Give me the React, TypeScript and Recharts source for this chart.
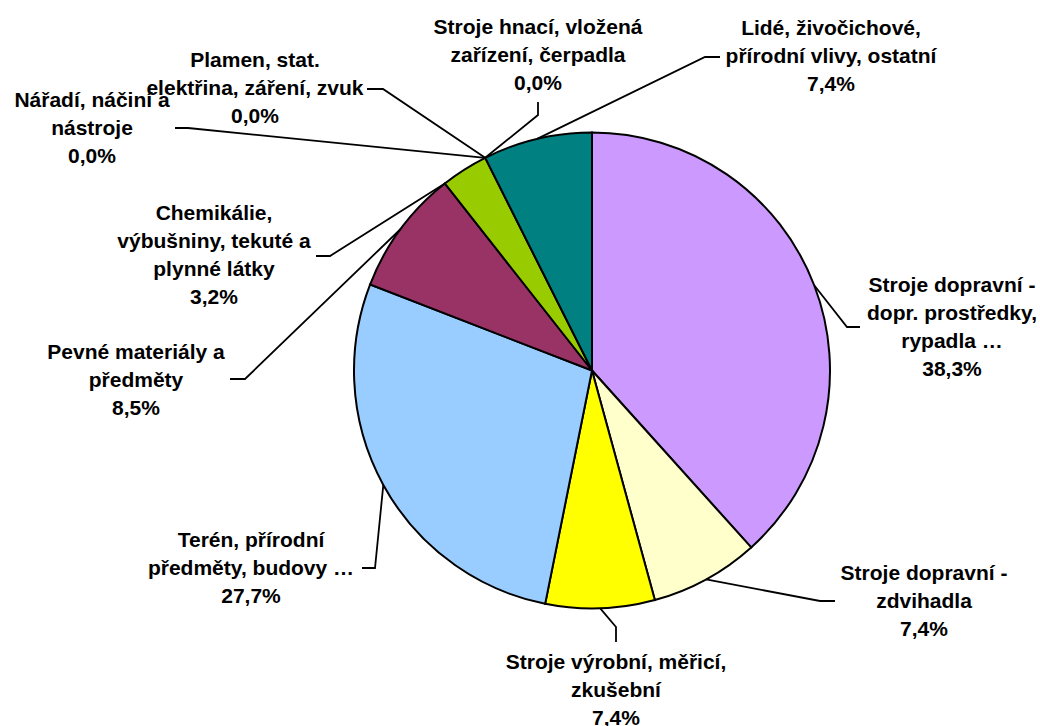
import React from "react";
import { PieChart, Pie, Cell } from "recharts";

// categories (line breaks as in the original labels)
const categories = [
  "Stroje dopravní -\ndopr. prostředky,\nrypadla …",
  "Stroje dopravní -\nzdvihadla",
  "Stroje výrobní, měřicí,\nzkušební",
  "Terén, přírodní\npředměty, budovy …",
  "Pevné materiály a\npředměty",
  "Chemikálie,\nvýbušniny, tekuté a\nplynné látky",
  "Nářadí, náčiní a\nnástroje",
  "Plamen, stat.\nelektřina, záření, zvuk",
  "Stroje hnací, vložená\nzařízení, čerpadla",
  "Lidé, živočichové,\npřírodní vlivy, ostatní",
];

const shares = [38.3, 7.4, 7.4, 27.7, 8.5, 3.2, 0.0, 0.0, 0.0, 7.4];

const colors = [
  "#CC99FF",
  "#FFFFCC",
  "#FFFF00",
  "#99CCFF",
  "#993366",
  "#99CC00",
  "#3366FF",
  "#FF6600",
  "#C0C0C0",
  "#008080",
];

// label layout: elbow point, line end, text centre x, first line centre y
const labelLayout = [
  { elbow: [847, 327], end: [860, 327], tx: 952, ty: 285 },
  { elbow: [820, 601], end: [835, 601], tx: 924, ty: 573 },
  { elbow: [616, 627], end: [616, 642], tx: 616, ty: 662 },
  { elbow: [375, 568], end: [362, 568], tx: 251, ty: 540 },
  { elbow: [245, 379], end: [230, 379], tx: 136, ty: 352 },
  { elbow: [330, 256], end: [316, 256], tx: 214, ty: 213, atStart: true },
  { elbow: [188, 128], end: [175, 128], tx: 92, ty: 100 },
  { elbow: [383, 89], end: [367, 89], tx: 255, ty: 60 },
  { elbow: [538, 115], end: [538, 102], tx: 538, ty: 27 },
  { elbow: [705, 57], end: [720, 57], tx: 831, ty: 28 },
];

const data = categories.map((name, i) => ({ name, value: shares[i] }));

const RAD = Math.PI / 180;
const LINE_H = 28;

const renderLabel = (props: any) => {
  const { cx, cy, midAngle, startAngle, outerRadius, index } = props;
  const lay = labelLayout[index];
  if (!lay) return null;
  const ang = lay.atStart ? startAngle : midAngle;
  const ax = cx + outerRadius * Math.cos(-ang * RAD);
  const ay = cy + outerRadius * Math.sin(-ang * RAD);
  const lines = categories[index].split("\n");
  lines.push(shares[index].toFixed(1).replace(".", ",") + "%");
  return (
    <g key={"lbl" + index}>
      <polyline
        points={`${ax},${ay} ${lay.elbow[0]},${lay.elbow[1]} ${lay.end[0]},${lay.end[1]}`}
        fill="none"
        stroke="#000"
        strokeWidth={1.8}
      />
      <text
        textAnchor="middle"
        fontFamily="'Liberation Sans', Arial, sans-serif"
        fontWeight="bold"
        fontSize={21}
        fill="#000"
      >
        {lines.map((l, j) => (
          <tspan key={j} x={lay.tx} y={lay.ty + j * LINE_H + 7}>
            {l}
          </tspan>
        ))}
      </text>
    </g>
  );
};

export default function App() {
  return (
    <div style={{ position: "absolute", left: 0, top: 0, background: "#fff" }}>
      <PieChart width={1040} height={726} margin={{ top: 0, right: 0, bottom: 0, left: 0 }}>
        <Pie
          data={data}
          dataKey="value"
          nameKey="name"
          cx={592}
          cy={370.5}
          outerRadius={238}
          startAngle={90}
          endAngle={-270}
          stroke="#000"
          strokeWidth={2}
          label={renderLabel}
          labelLine={false}
          isAnimationActive={false}
        >
          {data.map((d, i) => (
            <Cell key={i} fill={colors[i]} />
          ))}
        </Pie>
      </PieChart>
    </div>
  );
}
